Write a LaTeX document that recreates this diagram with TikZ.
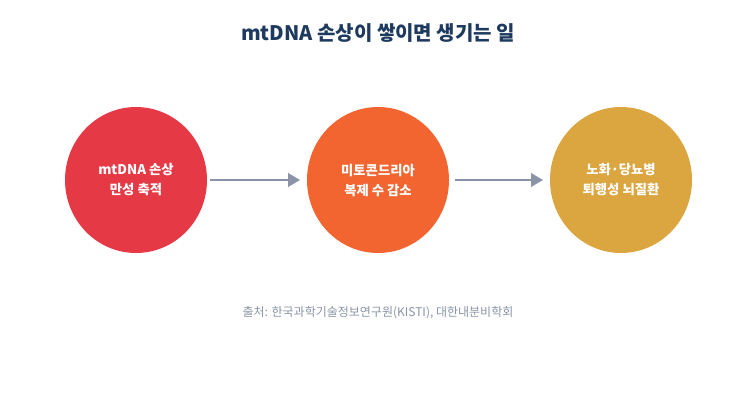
\documentclass[tikz,border=0pt]{standalone}
\usepackage{fontspec}
\setmainfont{Noto Sans CJK KR}
\usetikzlibrary{arrows.meta}
\usetikzlibrary{positioning}
\usetikzlibrary{shapes.geometric}
\definecolor{stepred}{HTML}{E63946}
\definecolor{steporange}{HTML}{F26531}
\definecolor{stepgold}{HTML}{DBA540}
\definecolor{titleblue}{HTML}{1F3A5F}
\definecolor{arrowgray}{HTML}{8A94A6}

\begin{document}
\begin{tikzpicture}[x=0.75pt, y=0.75pt,
    stage/.style={ellipse, minimum width=106.5pt, minimum height=109.5pt, inner sep=0pt, align=center, text=white, font=\fontsize{10}{15}\selectfont\bfseries},
    flow/.style={line width=2pt, arrowgray, -{Triangle[length=9pt,width=10pt]}}
  ]

    \useasboundingbox (0,0) rectangle (756,405);

    % title
    \node[text=titleblue, font=\fontsize{15}{18}\selectfont\bfseries] (title) at (378,372) {mtDNA 손상이 쌓이면 생기는 일};

    % stages
    \node[stage, fill=stepred] (damage) at (136,225) {mtDNA 손상\\만성 축적};
    \node[stage, fill=steporange] (copy) at (378,225) {미토콘드리아\\복제 수 감소};
    \node[stage, fill=stepgold] (disease) at (621,225) {노화·당뇨병\\퇴행성 뇌질환};

    % arrows
    \draw[flow] ([xshift=2pt]damage.east) -- ([xshift=-5pt]copy.west);
    \draw[flow] ([xshift=4pt]copy.east) -- ([xshift=-5pt]disease.west);

    % source
    \node[text=arrowgray, font=\fontsize{9}{11}\selectfont] (source) at (378,92) {출처: 한국과학기술정보연구원(KISTI), 대한내분비학회};
  \end{tikzpicture}
\end{document}
